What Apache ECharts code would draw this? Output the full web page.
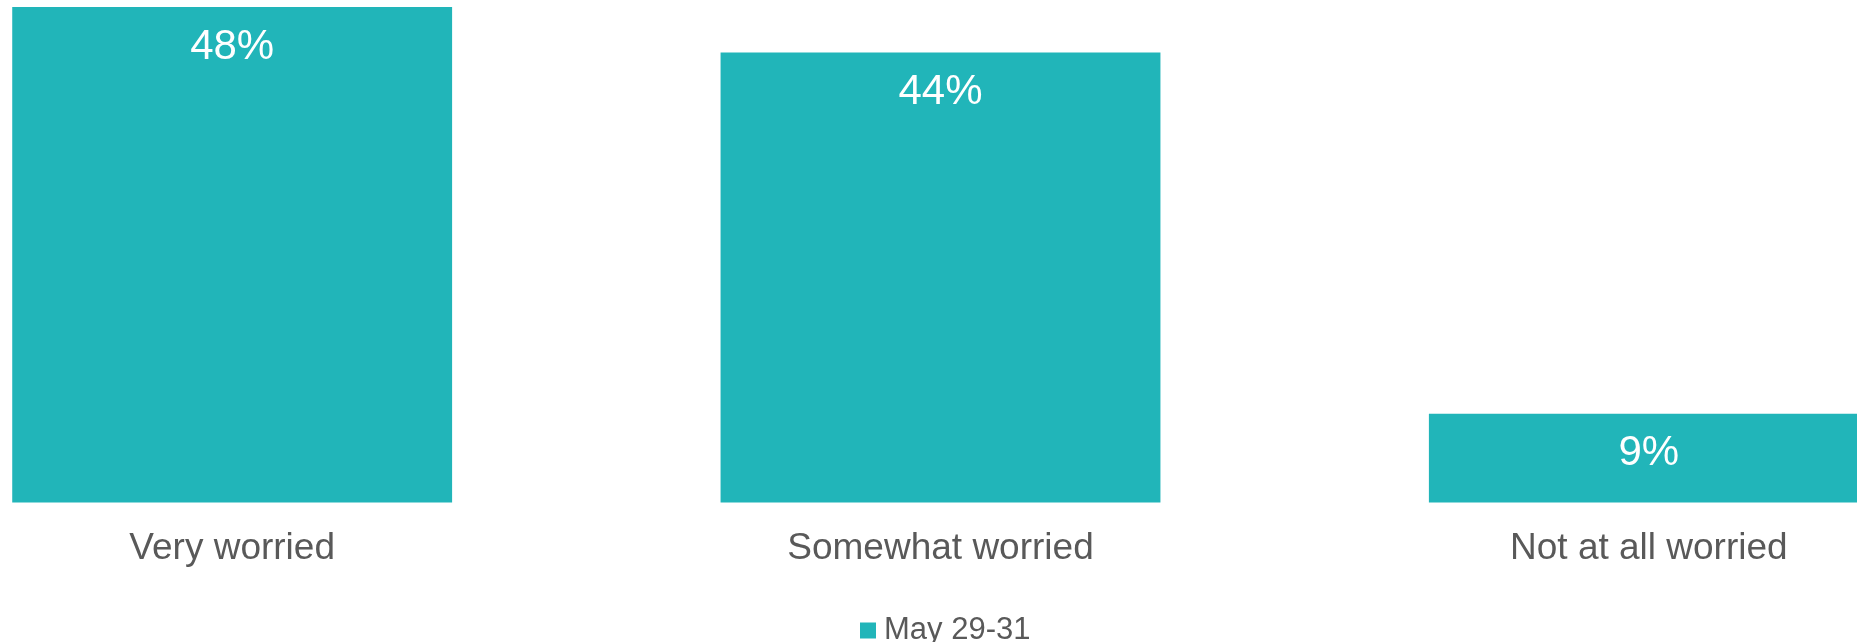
<!DOCTYPE html>
<html>
<head>
<meta charset="utf-8">
<script src="https://cdn.jsdelivr.net/npm/echarts@6/dist/echarts.min.js"></script>
<style>
html,body{margin:0;padding:0;background:#fff;overflow:hidden;width:1857px;height:642px;}
#chart{width:2125px;height:642px;margin-left:-122px;}
</style>
</head>
<body>
<div id="chart"></div>
<script>
const categories = ['Very worried', 'Somewhat worried', 'Not at all worried'];
const seriesName = 'May 29-31';
const values = [48, 43.6, 8.6];

const chart = echarts.init(document.getElementById('chart'));
chart.setOption({
  animation: false,
  textStyle: { fontFamily: 'Liberation Sans, Arial, sans-serif' },
  grid: { left: 0, right: 0, top: 7, bottom: 139.5, containLabel: false },
  legend: {
    data: [seriesName],
    left: 855 + 122,
    top: 610,
    itemWidth: 16,
    itemHeight: 16,
    icon: 'rect',
    textStyle: { fontSize: 31, color: '#595959', padding: [0, 0, 0, 3] }
  },
  xAxis: {
    type: 'category',
    data: categories,
    axisLine: { show: false },
    axisTick: { show: false },
    axisLabel: { fontSize: 37, color: '#595959', margin: 28, interval: 0 }
  },
  yAxis: {
    type: 'value',
    min: 0,
    max: 48,
    show: false,
    splitLine: { show: false }
  },
  series: [{
    name: seriesName,
    type: 'bar',
    data: values,
    barCategoryGap: '37.9%',
    itemStyle: { color: '#21B5B9' },
    label: {
      show: true,
      position: 'insideTop',
      distance: 19,
      fontSize: 42,
      color: '#ffffff',
      formatter: p => Math.round(p.value) + '%'
    }
  }]
});
</script>
</body>
</html>
